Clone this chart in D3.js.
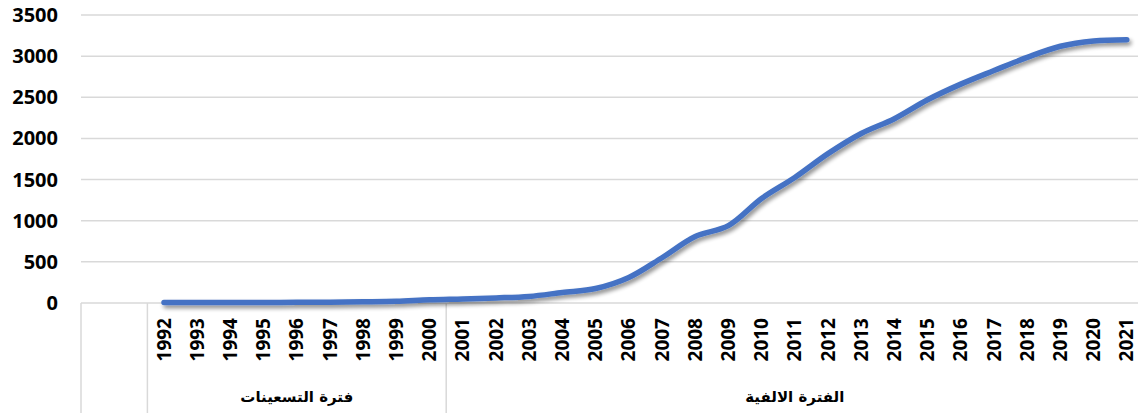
<!DOCTYPE html>
<html>
<head>
<meta charset="utf-8">
<script src="https://cdn.jsdelivr.net/npm/d3@7"></script>
<style>
  html, body { margin: 0; padding: 0; background: #fff; }
  svg { display: block; }
  .ytick { font-family: "Open Sans", sans-serif; font-weight: 700; font-size: 20px; fill: #000; }
  .xtick { font-family: "Open Sans", sans-serif; font-weight: 700; font-size: 19px; fill: #000; }
  .group { font-family: "DejaVu Sans", sans-serif; font-weight: 700; font-size: 15px; fill: #000; }
</style>
</head>
<body>
<svg id="chart" width="1138" height="413"></svg>
<script>
// data
var years = ["1992","1993","1994","1995","1996","1997","1998","1999","2000",
             "2001","2002","2003","2004","2005","2006","2007","2008","2009","2010",
             "2011","2012","2013","2014","2015","2016","2017","2018","2019","2020","2021"];
var values = [5, 5, 6, 7, 8, 10, 15, 22, 40,
              50, 62, 80, 128, 176, 310, 550, 808, 940, 1270,
              1525, 1815, 2060, 2240, 2470, 2660, 2825, 2985, 3120, 3185, 3200];
var blankSlots = ["_a", "_b"];            // empty categories before the first group
var groupNames = ["فترة التسعينات", "الفترة الالفية"];
var groupFirst = ["1992", "2001"];
var groupLast  = ["2000", "2021"];
var yTicks = [0, 500, 1000, 1500, 2000, 2500, 3000, 3500];

var margin = {top: 15, left: 81, axisY: 303};
var bandW = 33.2;

var svg = d3.select("#chart");
var domain = blankSlots.concat(years);

var xScale = d3.scaleBand()
    .domain(domain)
    .range([margin.left, margin.left + domain.length * bandW]);
var yScale = d3.scaleLinear()
    .domain([0, 3500])
    .range([margin.axisY, margin.top]);

// drop shadow for the line
var defs = svg.append("defs");
var f = defs.append("filter").attr("id", "shadow")
    .attr("x", "-5%").attr("y", "-5%").attr("width", "110%").attr("height", "120%");
f.append("feGaussianBlur").attr("in", "SourceAlpha").attr("stdDeviation", 2);
f.append("feOffset").attr("dx", 2).attr("dy", 3).attr("result", "ob");
f.append("feComponentTransfer").append("feFuncA").attr("type", "linear").attr("slope", 0.45);
var merge = f.append("feMerge");
merge.append("feMergeNode");
merge.append("feMergeNode").attr("in", "SourceGraphic");

// gridlines
svg.append("g").selectAll("line")
    .data(yTicks)
    .enter().append("line")
    .attr("x1", margin.left)
    .attr("x2", 1138)
    .attr("y1", d => yScale(d))
    .attr("y2", d => yScale(d))
    .attr("stroke", "#d9d9d9")
    .attr("stroke-width", 1.5);

// y labels
svg.append("g").selectAll("text")
    .data(yTicks)
    .enter().append("text")
    .attr("class", "ytick")
    .attr("x", 58)
    .attr("y", d => yScale(d))
    .attr("dy", "0.35em")
    .attr("text-anchor", "end")
    .text(d => d);

// category separators: outer left, end of blanks, group boundaries
var sepX = [xScale(blankSlots[0]), xScale(groupFirst[0]), xScale(groupFirst[1])];
svg.append("g").selectAll("line")
    .data(sepX)
    .enter().append("line")
    .attr("x1", d => d).attr("x2", d => d)
    .attr("y1", margin.axisY).attr("y2", 413)
    .attr("stroke", "#d9d9d9")
    .attr("stroke-width", 1.5);

// year labels (rotated)
svg.append("g").selectAll("text")
    .data(years)
    .enter().append("text")
    .attr("class", "xtick")
    .attr("transform", d => "translate(" + (xScale(d) + xScale.bandwidth() / 2) + "," + (margin.axisY + 15) + ") rotate(-90)")
    .attr("dy", "0.35em")
    .attr("text-anchor", "end")
    .text(d => d);

// group labels
svg.append("g").selectAll("text")
    .data(groupNames)
    .enter().append("text")
    .attr("class", "group")
    .attr("x", (d, i) => (xScale(groupFirst[i]) + xScale(groupLast[i]) + xScale.bandwidth()) / 2)
    .attr("y", 397)
    .attr("dy", "0.35em")
    .attr("text-anchor", "middle")
    .attr("direction", "rtl")
    .text(d => d);

// line
var line = d3.line()
    .x((d, i) => xScale(years[i]) + xScale.bandwidth() / 2)
    .y(d => yScale(d))
    .curve(d3.curveCatmullRom.alpha(0.5));

svg.append("path")
    .datum(values)
    .attr("d", line)
    .attr("fill", "none")
    .attr("stroke", "#4472c4")
    .attr("stroke-width", 5.5)
    .attr("stroke-linecap", "round")
    .attr("stroke-linejoin", "round")
    .attr("filter", "url(#shadow)");
</script>
</body>
</html>
